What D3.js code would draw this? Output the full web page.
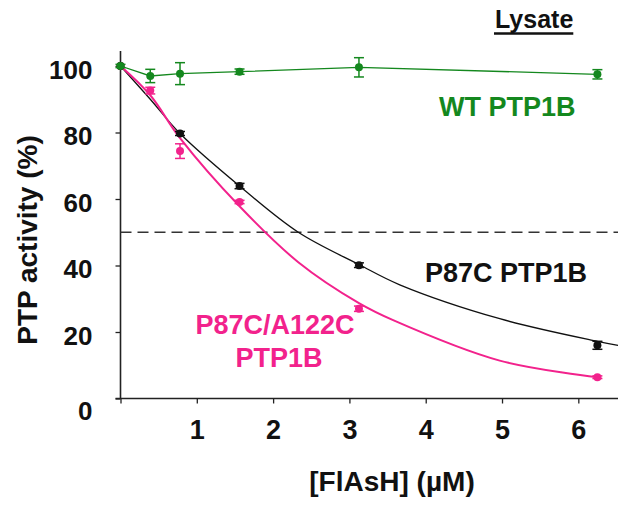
<!DOCTYPE html>
<html>
<head>
<meta charset="utf-8">
<script src="https://cdn.jsdelivr.net/npm/d3@7"></script>
<style>
  html, body { margin: 0; padding: 0; background: #fff; }
  svg { display: block; font-family: "Liberation Sans", Arial, sans-serif; }
</style>
</head>
<body>
<div id="chart"></div>
<script>
// ---- data ----
const wtConc   = [0, 0.39, 0.78, 1.56, 3.125, 6.25];
const wtVals   = [100, 97.0, 97.7, 98.3, 99.6, 97.5];
const wtErr    = [0.5, 2.0, 3.3, 0.8, 2.9, 1.4];

const p87Conc  = [0, 0.78, 1.56, 3.125, 6.25];
const p87Vals  = [100, 79.7, 63.9, 40.1, 16.0];
const p87Err   = [0, 0.6, 0.8, 0.7, 1.2];

const dblConc  = [0, 0.39, 0.78, 1.56, 3.125, 6.25];
const dblVals  = [100, 92.6, 74.4, 59.1, 27.0, 6.4];
const dblErr   = [0, 1.0, 2.2, 0.5, 0.8, 0.4];

// fitted curves
const p87FitX  = [0, 0.39, 0.78, 1.56, 2.33, 3.125, 3.66, 4.97, 6.25, 6.52];
const p87FitY  = [100, 90, 79.7, 63.9, 50, 40.3, 34.2, 24.0, 17.2, 16.0];
const dblFitX  = [0, 0.39, 0.78, 1.56, 2.33, 3.125, 3.58, 4.97, 6.25];
const dblFitY  = [100, 91.2, 78.3, 57.8, 41, 28.7, 23.5, 11.4, 6.4];

const halfLine = 50;
const xTicks   = [0, 1, 2, 3, 4, 5, 6];
const yTicks   = [0, 20, 40, 60, 80, 100];

const labels = {
  wt: "WT PTP1B",
  p87: "P87C PTP1B",
  dbl1: "P87C/A122C",
  dbl2: "PTP1B",
  panel: "Lysate",
  xTitle: "[FlAsH] (µM)",
  yTitle: "PTP activity (%)"
};

// ---- styles ----
const GREEN = "#14881e";
const PINK  = "#f2228c";
const BLACK = "#111";

const W = 629, H = 506;
const svg = d3.select("#chart").append("svg").attr("width", W).attr("height", H);
svg.append("rect").attr("width", W).attr("height", H).attr("fill", "#fff");

const x = d3.scaleLinear().domain([0, 6.52]).range([120.5, 618]);
const y = d3.scaleLinear().domain([0, 100]).range([398.5, 66]);

// axes
const xAxis = d3.axisBottom(x).tickValues(xTicks).tickSize(5).tickSizeOuter(0)
  .tickFormat(d => d === 0 ? "" : d);
const gx = svg.append("g").attr("transform", `translate(0,${y(0)})`).call(xAxis);
gx.select(".domain").attr("d", `M${x(0) - 5},0H${x(6.52)}`).attr("stroke", "#222").attr("stroke-width", 1.6);
gx.selectAll(".tick line").attr("stroke", "#222").attr("stroke-width", 1.3);
gx.selectAll(".tick text").attr("y", 40).attr("dy", null)
  .attr("font-size", 27).attr("font-weight", "bold").attr("fill", "#111")
  .attr("font-family", "Liberation Sans, Arial, sans-serif");

const yAxis = d3.axisLeft(y).tickValues(yTicks).tickSize(5).tickSizeOuter(0);
const gy = svg.append("g").attr("transform", `translate(${x(0)},0)`).call(yAxis);
gy.select(".domain").attr("d", `M0,${y(0)}V${y(104.5)}`).attr("stroke", "#222").attr("stroke-width", 1.6);
gy.selectAll(".tick line").attr("stroke", "#222").attr("stroke-width", 1.3);
gy.selectAll(".tick text").attr("x", -28).attr("dy", null)
  .attr("y", d => d === 0 ? 21 : 12)
  .attr("font-size", 26).attr("font-weight", "bold").attr("fill", "#111")
  .attr("font-family", "Liberation Sans, Arial, sans-serif");

// axis titles
svg.append("text").attr("x", 392).attr("y", 491).attr("text-anchor", "middle")
  .attr("font-size", 28).attr("font-weight", "bold").attr("fill", "#111").text(labels.xTitle);
svg.append("text").attr("transform", `translate(37,240) rotate(-90)`).attr("text-anchor", "middle")
  .attr("font-size", 28).attr("font-weight", "bold").attr("fill", "#111").text(labels.yTitle);

// 50% dashed line
svg.append("line").attr("x1", x(0)).attr("x2", x(6.52)).attr("y1", y(halfLine)).attr("y2", y(halfLine))
  .attr("stroke", "#333").attr("stroke-width", 1.5).attr("stroke-dasharray", "11,6");

// curves
const lineSmooth = d3.line().x(d => x(d[0])).y(d => y(d[1])).curve(d3.curveCatmullRom.alpha(0.5));
svg.append("path").attr("d", lineSmooth(d3.zip(p87FitX, p87FitY)))
  .attr("fill", "none").attr("stroke", BLACK).attr("stroke-width", 1.3);
svg.append("path").attr("d", lineSmooth(d3.zip(dblFitX, dblFitY)))
  .attr("fill", "none").attr("stroke", PINK).attr("stroke-width", 2);
const lineLin = d3.line().x(d => x(d[0])).y(d => y(d[1]));
svg.append("path").attr("d", lineLin(d3.zip(wtConc, wtVals)))
  .attr("fill", "none").attr("stroke", GREEN).attr("stroke-width", 1.3);

// points with error bars
function drawSeries(cx, vals, errs, color) {
  const g = svg.append("g");
  const data = d3.zip(cx, vals, errs);
  data.forEach(([c, v, e]) => {
    if (e > 0.3) {
      g.append("line").attr("x1", x(c)).attr("x2", x(c)).attr("y1", y(v - e)).attr("y2", y(v + e))
        .attr("stroke", color).attr("stroke-width", 1.5);
      [v - e, v + e].forEach(t => g.append("line").attr("x1", x(c) - 5).attr("x2", x(c) + 5)
        .attr("y1", y(t)).attr("y2", y(t)).attr("stroke", color).attr("stroke-width", 1.5));
    }
    g.append("circle").attr("cx", x(c)).attr("cy", y(v)).attr("r", 4).attr("fill", color);
  });
}
drawSeries(dblConc, dblVals, dblErr, PINK);
drawSeries(p87Conc, p87Vals, p87Err, BLACK);
drawSeries(wtConc, wtVals, wtErr, GREEN);

// series labels
svg.append("text").attr("x", 439).attr("y", 116).attr("font-size", 27).attr("font-weight", "bold")
  .attr("fill", GREEN).text(labels.wt);
svg.append("text").attr("x", 425).attr("y", 282).attr("font-size", 27).attr("font-weight", "bold")
  .attr("fill", BLACK).text(labels.p87);
svg.append("text").attr("x", 275).attr("y", 334).attr("text-anchor", "middle").attr("font-size", 27).attr("font-weight", "bold")
  .attr("fill", PINK).text(labels.dbl1);
svg.append("text").attr("x", 279).attr("y", 367).attr("text-anchor", "middle").attr("font-size", 27).attr("font-weight", "bold")
  .attr("fill", PINK).text(labels.dbl2);

// panel title
const lys = svg.append("text").attr("x", 495).attr("y", 28).attr("font-size", 25).attr("font-weight", "bold")
  .attr("fill", "#111").text(labels.panel);
const lw = lys.node().getComputedTextLength();
svg.append("line").attr("x1", 494).attr("x2", 494 + lw + 1).attr("y1", 33.5).attr("y2", 33.5)
  .attr("stroke", "#111").attr("stroke-width", 2.5);
</script>
</body>
</html>
